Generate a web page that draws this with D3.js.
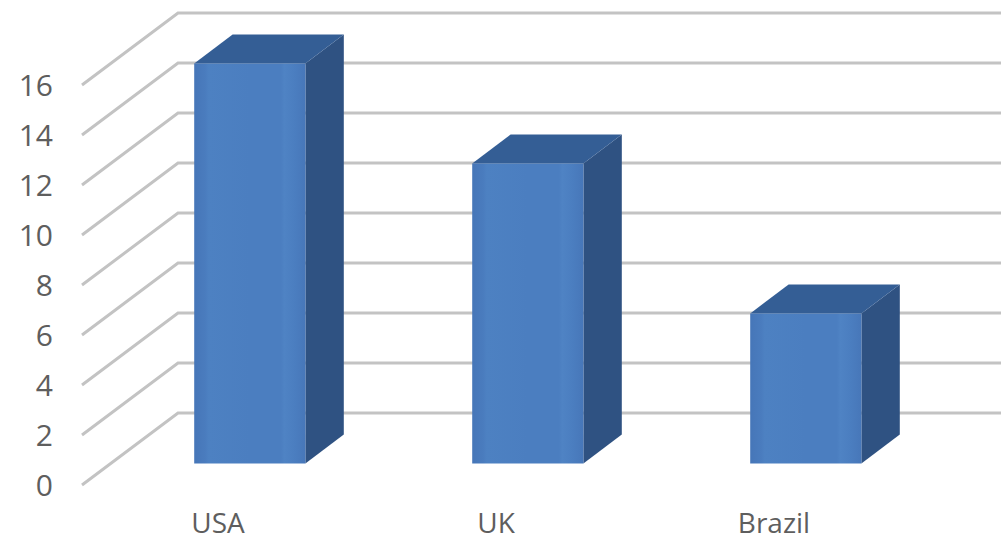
<!DOCTYPE html>
<html>
<head>
<meta charset="utf-8">
<script src="https://cdn.jsdelivr.net/npm/d3@7"></script>
<style>
  html, body { margin: 0; padding: 0; background: #fff; }
  svg { display: block; }
</style>
</head>
<body>
<svg id="chart" width="1001" height="542"></svg>
<script>
// Data
const categories = ["USA", "UK", "Brazil"];
const values = [16, 12, 6];
const yTicks = [0, 2, 4, 6, 8, 10, 12, 14, 16];

const W = 1001, H = 542;
const svg = d3.select("#chart");

// Oblique 3D projection parameters
const depthDX = 96, depthDY = -72;
const barD0 = 0.3, barD1 = 0.7;

const x = d3.scaleBand()
  .domain(categories)
  .range([82, 916])
  .paddingInner(0.6)
  .paddingOuter(0.3);

const y = d3.scaleLinear().domain([0, 16]).range([485, 85]);

function proj(px, v, d) {
  return [px + d * depthDX, y(v) + d * depthDY];
}

// Gridlines (side wall diagonal + back wall horizontal)
const grid = svg.append("g").attr("class", "grid");
yTicks.forEach(t => {
  const p0 = proj(82, t, 0);
  const p1 = proj(82, t, 1);
  grid.append("path")
    .attr("d", `M${p0[0]},${p0[1]}L${p1[0]},${p1[1]}L${W + 20},${p1[1]}`)
    .attr("fill", "none")
    .attr("stroke", "#c3c3c3")
    .attr("stroke-width", 3);
});

// Y tick labels
svg.append("g").selectAll("text")
  .data(yTicks)
  .join("text")
  .attr("x", 53)
  .attr("y", d => y(d))
  .attr("dy", "0.36em")
  .attr("text-anchor", "end")
  .attr("font-family", "'Open Sans', sans-serif")
  .attr("font-size", 30)
  .attr("fill", "#5e5e5e")
  .text(d => d);

// Category labels
svg.append("g").selectAll("text")
  .data(categories)
  .join("text")
  .attr("x", d => x(d) + x.bandwidth() / 2 - 3)
  .attr("y", 533)
  .attr("text-anchor", "middle")
  .attr("font-family", "'Open Sans', sans-serif")
  .attr("font-size", 28)
  .attr("fill", "#5e5e5e")
  .text(d => d);

// Gradient for front faces
const defs = svg.append("defs");
const grad = defs.append("linearGradient").attr("id", "frontGrad")
  .attr("x1", "0%").attr("x2", "100%").attr("y1", "0%").attr("y2", "0%");
[[0, "#4676b8"], [0.1, "#4a7cbe"], [0.13, "#4d81c2"], [0.5, "#4b7ec0"],
 [0.78, "#4b7ec0"], [0.81, "#4f83c4"], [0.9, "#4b7ec0"], [1, "#4777b9"]]
  .forEach(([o, c]) => grad.append("stop").attr("offset", o).attr("stop-color", c));

// Bars
const bars = svg.append("g").selectAll("g")
  .data(categories.map((c, i) => ({ c, v: values[i] })))
  .join("g");

const poly = pts => "M" + pts.map(p => p.join(",")).join("L") + "Z";

bars.each(function(d) {
  const g = d3.select(this);
  const xl = x(d.c), xr = x(d.c) + x.bandwidth();
  const fbl = proj(xl, 0, barD0), fbr = proj(xr, 0, barD0);
  const ftl = proj(xl, d.v, barD0), ftr = proj(xr, d.v, barD0);
  const bbr = proj(xr, 0, barD1), btr = proj(xr, d.v, barD1), btl = proj(xl, d.v, barD1);
  // side
  g.append("path").attr("d", poly([fbr, ftr, btr, bbr])).attr("fill", "#2f5282");
  // top
  g.append("path").attr("d", poly([ftl, ftr, btr, btl])).attr("fill", "#345e95");
  // front
  g.append("path").attr("d", poly([fbl, fbr, ftr, ftl])).attr("fill", "url(#frontGrad)");
});
</script>
</body>
</html>
